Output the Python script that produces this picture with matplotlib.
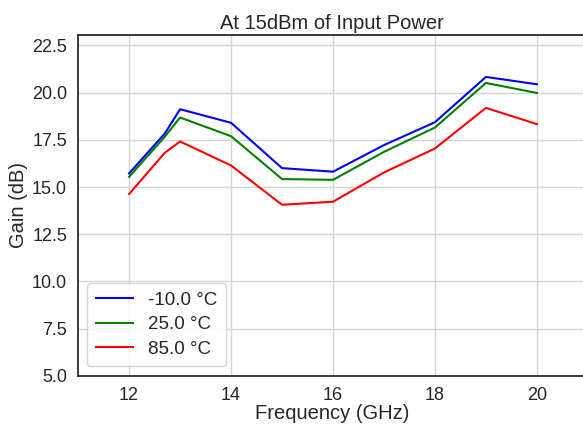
import matplotlib
matplotlib.use("Agg")
import matplotlib.pyplot as plt

# Frequency points (GHz)
freq = [12, 12.7, 13, 14, 15, 16, 17, 18, 19, 20]

# Gain (dB) at each temperature
gain_m10 = [15.72, 17.83, 19.12, 18.40, 16.00, 15.81, 17.22, 18.43, 20.83, 20.44]
gain_25 = [15.54, 17.66, 18.68, 17.69, 15.42, 15.38, 16.86, 18.15, 20.51, 19.98]
gain_85 = [14.63, 16.81, 17.41, 16.14, 14.06, 14.22, 15.77, 17.04, 19.19, 18.33]

labels = ["-10.0 °C", "25.0 °C", "85.0 °C"]
colors = ["blue", "green", "red"]

plt.rcParams["font.family"] = ["Liberation Sans", "DejaVu Sans"]

fig = plt.figure(figsize=(5.83, 4.32), dpi=100)
ax = fig.add_axes([0.134, 0.13, 0.87, 0.789])

for ys, lab, c in zip([gain_m10, gain_25, gain_85], labels, colors):
    ax.plot(freq, ys, color=c, linewidth=1.5, label=lab)

ax.set_xlim(11, 20.95)
ax.set_ylim(5, 23.05)
ax.set_xticks([12, 14, 16, 18, 20])
ax.set_yticks([5.0, 7.5, 10.0, 12.5, 15.0, 17.5, 20.0, 22.5])
ax.set_yticklabels(["5.0", "7.5", "10.0", "12.5", "15.0", "17.5", "20.0", "22.5"])

ax.grid(True, color="#d5d5d5", linewidth=1.0)
ax.set_axisbelow(True)
for s in ax.spines.values():
    s.set_color("#222222")
    s.set_linewidth(1.25)

ax.tick_params(axis="both", labelsize=13, length=0, pad=8, colors="#262626")
ax.set_xlabel("Frequency (GHz)", fontsize=14.5, color="#262626", labelpad=0)
ax.set_ylabel("Gain (dB)", fontsize=14.5, color="#262626", labelpad=3)
ax.set_title("At 15dBm of Input Power", fontsize=14.5, color="#262626", pad=4)

leg = ax.legend(loc="lower left", fontsize=13.5, frameon=True, fancybox=True,
                handlelength=2.0, handletextpad=0.8, borderpad=0.45,
                labelspacing=0.4, borderaxespad=0.5)
leg.get_frame().set_edgecolor("#cccccc")
for t in leg.get_texts():
    t.set_color("#262626")

fig.savefig("out.png", dpi=100)
